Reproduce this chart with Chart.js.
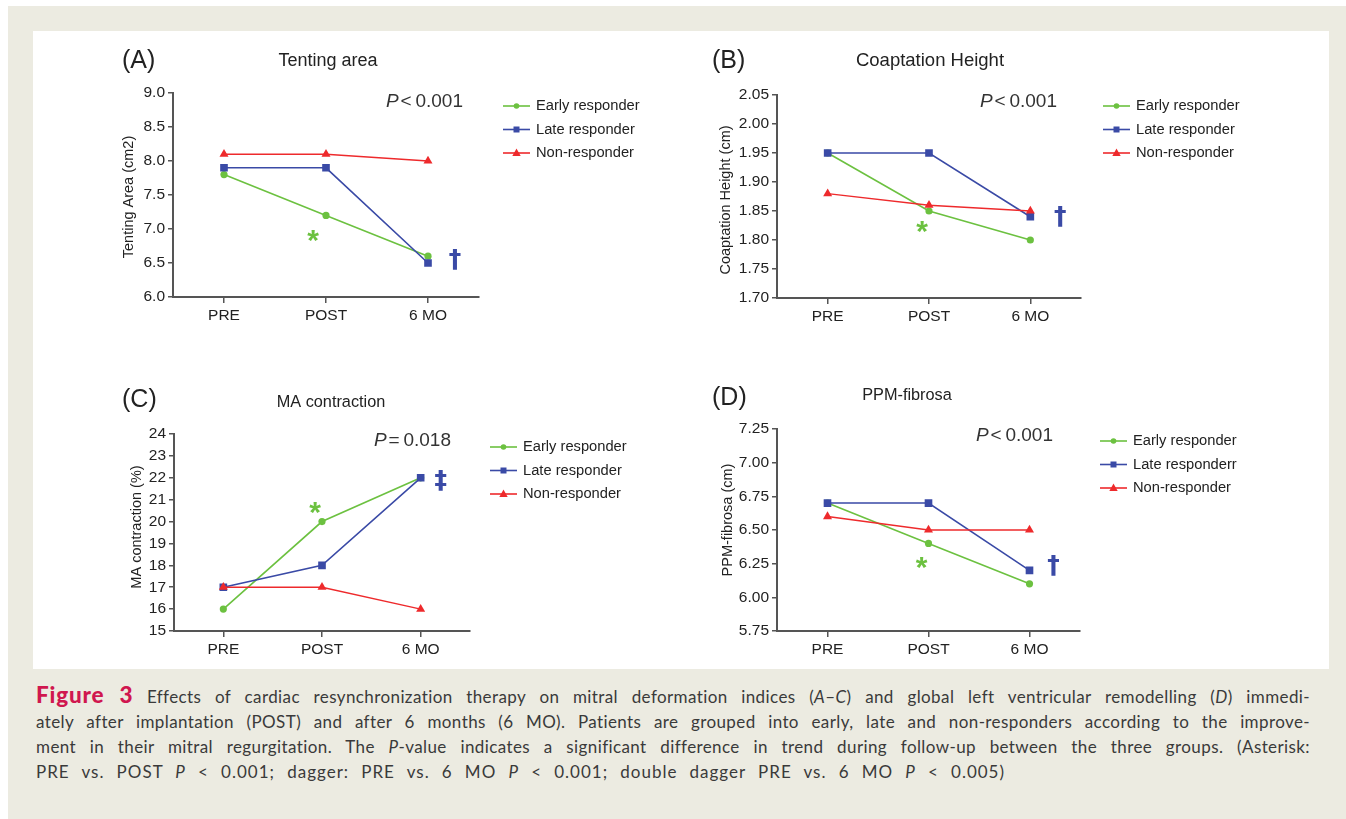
<!DOCTYPE html>
<html><head><meta charset="utf-8">
<script src="https://cdn.jsdelivr.net/npm/chart.js@4.4.1/dist/chart.umd.min.js"></script>
<style>
html,body{margin:0;padding:0;background:#fff;}
#page{position:relative;width:1346px;height:819px;overflow:hidden;background:#fff;}
#bg{position:absolute;left:8px;top:6px;right:0;bottom:0;background:#ecebe1;}
#inner{position:absolute;left:33px;top:31px;width:1296px;height:638px;background:#fff;}
canvas{position:absolute;}
#cap{position:absolute;left:36px;top:682px;width:1274px;font-family:Lato,"Open Sans",sans-serif;font-size:17px;letter-spacing:0.4px;color:#3a3a3a;line-height:25px;}
#cap .ln{text-align:justify;text-align-last:justify;white-space:nowrap;}
#cap .l4{width:969px;letter-spacing:1px;word-spacing:5px;}
#cap b{color:#d0174f;font-size:22.5px;font-weight:900;letter-spacing:0.8px;margin-right:0px;}
</style></head>
<body><div id="page"><div id="bg"></div><div id="inner"></div>
<canvas id="cA" width="590" height="300" style="left:100px;top:40px;width:590px;height:300px"></canvas>
<canvas id="cB" width="600" height="300" style="left:690px;top:40px;width:600px;height:300px"></canvas>
<canvas id="cC" width="590" height="300" style="left:100px;top:370px;width:590px;height:300px"></canvas>
<canvas id="cD" width="600" height="300" style="left:690px;top:370px;width:600px;height:300px"></canvas>
<div id="cap">
<div class="ln"><b>Figure 3</b> Effects of cardiac resynchronization therapy on mitral deformation indices (<i>A</i>–<i>C</i>) and global left ventricular remodelling (<i>D</i>) immedi-</div>
<div class="ln">ately after implantation (POST) and after 6 months (6 MO). Patients are grouped into early, late and non-responders according to the improve-</div>
<div class="ln">ment in their mitral regurgitation. The <i>P</i>-value indicates a significant difference in trend during follow-up between the three groups. (Asterisk:</div>
<div class="ln l4">PRE vs. POST <i>P</i> &lt; 0.001; dagger: PRE vs. 6 MO <i>P</i> &lt; 0.001; double dagger PRE vs. 6 MO <i>P</i> &lt; 0.005)</div>
</div>
</div>
<script>
// ---- data ----
const categories = ['PRE', 'POST', '6 MO'];
const seriesNames = ['Early responder', 'Late responder', 'Non-responder'];
const seriesNamesD = ['Early responder', 'Late responderr', 'Non-responder'];

const tentingEarly = [7.8, 7.2, 6.6];
const tentingLate  = [7.9, 7.9, 6.5];
const tentingNon   = [8.1, 8.1, 8.0];

const coaptEarly = [1.95, 1.85, 1.80];
const coaptLate  = [1.95, 1.95, 1.84];
const coaptNon   = [1.88, 1.86, 1.85];

const maEarly = [16, 20, 22];
const maLate  = [17, 18, 22];
const maNon   = [17, 17, 16];

const ppmEarly = [6.7, 6.4, 6.1];
const ppmLate  = [6.7, 6.7, 6.2];
const ppmNon   = [6.6, 6.5, 6.5];

const pValues = ['<0.001', '<0.001', '=0.018', '<0.001'];

// ---- styles ----
const GREEN = '#6cc140', BLUE = '#3a4aa6', RED = '#ee2a2c', TXT = '#222', AX = '#555';
const FONT = '"Liberation Sans", Arial, sans-serif';

function drawMarker(ctx, style, x, y, s, color) {
  ctx.fillStyle = color;
  ctx.beginPath();
  if (style === 'circle') { ctx.arc(x, y, s, 0, Math.PI * 2); }
  else if (style === 'rect') { ctx.rect(x - s, y - s, 2 * s, 2 * s); }
  else { ctx.moveTo(x, y - s * 1.1); ctx.lineTo(x + s * 1.05, y + s * 0.75); ctx.lineTo(x - s * 1.05, y + s * 0.75); ctx.closePath(); }
  ctx.fill();
}

const decoPlugin = {
  id: 'deco',
  afterDraw(chart, args, o) {
    const ctx = chart.ctx;
    ctx.save();
    ctx.fillStyle = TXT;
    ctx.textBaseline = 'middle';
    ctx.textAlign = 'left';
    ctx.font = '25px ' + FONT;
    ctx.fillText(o.letter, o.letterX, o.letterY);
    ctx.textAlign = 'center';
    ctx.font = o.titleSize + 'px ' + FONT;
    ctx.fillText(o.title, o.titleX, o.titleY);
    // y title
    ctx.save();
    ctx.translate(o.yTitleX, o.yTitleY);
    ctx.rotate(-Math.PI / 2);
    ctx.font = '14.5px ' + FONT;
    ctx.fillText(o.yTitle, 0, 0);
    ctx.restore();
    // P value
    ctx.textAlign = 'right';
    ctx.fillStyle = '#333';
    ctx.font = '19px ' + FONT;
    const rest = o.p.charAt(0) + '\u2009' + o.p.slice(1);
    ctx.fillText(rest, o.pX, o.pY);
    const w = ctx.measureText(rest).width;
    ctx.font = 'italic 19px ' + FONT;
    ctx.fillText('P', o.pX - w - 2, o.pY);
    // legend (in series order)
    ctx.textAlign = 'left';
    ctx.font = '14.7px ' + FONT;
    const dsList = chart.data.datasets.slice().sort((a, b) => a.seriesIndex - b.seriesIndex);
    dsList.forEach((ds, i) => {
      const y = o.legY + i * o.legGap;
      ctx.strokeStyle = ds.borderColor;
      ctx.lineWidth = 1.6;
      ctx.beginPath(); ctx.moveTo(o.legX, y); ctx.lineTo(o.legX + 27, y); ctx.stroke();
      const ms = ds.pointStyle === 'circle' ? 2.8 : (ds.pointStyle === 'rect' ? 3 : 4);
      drawMarker(ctx, ds.pointStyle, o.legX + 13.5, y, ms, ds.borderColor);
      ctx.fillStyle = TXT;
      ctx.fillText(ds.label, o.legX + 33, y);
    });
    // significance marks
    o.marks.forEach(m => {
      const x = chart.scales.x.getPixelForValue(m.cat) + m.dx;
      const y = chart.scales.y.getPixelForValue(m.val);
      ctx.fillStyle = m.color;
      ctx.textAlign = 'center';
      ctx.textBaseline = 'alphabetic';
      if (m.text === '*') { ctx.font = 'bold 30px ' + FONT; ctx.fillText('*', x, y + 17); }
      else { ctx.font = 'bold 25px "DejaVu Sans", ' + FONT; ctx.fillText(m.text, x, y + 7); }
    });
    ctx.restore();
  }
};

function makeChart(id, names, data3, yCfg, layout, deco) {
  const styles = ['circle', 'rect', 'triangle'];
  const colors = [GREEN, BLUE, RED];
  const radii = [3.6, 5.4, 5.2];
  const datasets = data3.map((d, i) => ({
    label: names[i], data: d, borderColor: colors[i], backgroundColor: colors[i],
    seriesIndex: i, order: 2 - i,
    borderWidth: i === 2 ? 1.4 : 1.6, pointStyle: styles[i], pointRadius: radii[i], pointBorderWidth: 0,
    tension: 0, fill: false
  }));
  const canvas = document.getElementById(id);
  const W = canvas.width, H = canvas.height;
  const XH = 30;
  return new Chart(canvas, {
    type: 'line',
    data: { labels: categories, datasets: datasets },
    options: {
      responsive: false, animation: false, devicePixelRatio: 1,
      layout: { padding: { left: 0, top: layout.top, right: W - layout.right, bottom: H - layout.bottom - XH } },
      plugins: { legend: { display: false }, tooltip: { enabled: false }, deco: deco },
      scales: {
        x: {
          type: 'category', offset: true,
          afterFit: s => { s.height = XH; },
          grid: { display: true, drawOnChartArea: false, drawTicks: true, tickLength: 6, offset: false, color: AX, lineWidth: 1.5 },
          border: { display: true, color: AX, width: 2 },
          ticks: { color: TXT, font: { family: FONT, size: 15.5 }, padding: 3, maxRotation: 0 }
        },
        y: {
          min: yCfg.min, max: yCfg.max,
          afterFit: s => { s.width = layout.left; },
          grid: { display: true, drawOnChartArea: false, drawTicks: true, tickLength: 5, color: AX, lineWidth: 1.5 },
          border: { display: true, color: AX, width: 2 },
          ticks: { stepSize: yCfg.step, autoSkip: false, color: TXT, font: { family: FONT, size: 15.5 }, padding: 3,
                   callback: v => Number(v).toFixed(yCfg.dec) }
        }
      }
    },
    plugins: [decoPlugin]
  });
}

makeChart('cA', seriesNames, [tentingEarly, tentingLate, tentingNon],
  { min: 6, max: 9, step: 0.5, dec: 1 },
  { left: 73, top: 53, right: 379, bottom: 257 },
  { letter: '(A)', letterX: 22, letterY: 21, title: 'Tenting area', titleSize: 18, titleX: 228, titleY: 21,
    yTitle: 'Tenting Area (cm2)', yTitleX: 29, yTitleY: 157, p: pValues[0], pX: 363, pY: 62,
    legX: 403, legY: 66, legGap: 23.5,
    marks: [{ text: '*', cat: 1, dx: -13, val: 6.94, color: GREEN }, { text: '\u2020', cat: 2, dx: 27, val: 6.54, color: BLUE }] });
makeChart('cB', seriesNames, [coaptEarly, coaptLate, coaptNon],
  { min: 1.70, max: 2.05, step: 0.05, dec: 2 },
  { left: 87, top: 55, right: 391, bottom: 258 },
  { letter: '(B)', letterX: 22, letterY: 21, title: 'Coaptation Height', titleSize: 18.5, titleX: 240, titleY: 21,
    yTitle: 'Coaptation Height (cm)', yTitleX: 36, yTitleY: 160, p: pValues[1], pX: 367, pY: 62,
    legX: 413, legY: 66, legGap: 23.5,
    marks: [{ text: '*', cat: 1, dx: -7, val: 1.828, color: GREEN }, { text: '\u2020', cat: 2, dx: 30, val: 1.84, color: BLUE }] });
makeChart('cC', seriesNames, [maEarly, maLate, maNon],
  { min: 15, max: 24, step: 1, dec: 0 },
  { left: 74, top: 64, right: 370, bottom: 261 },
  { letter: '(C)', letterX: 22, letterY: 30, title: 'MA contraction', titleSize: 16.3, titleX: 231, titleY: 33,
    yTitle: 'MA contraction (%)', yTitleX: 37, yTitleY: 157, p: pValues[2], pX: 351, pY: 71,
    legX: 390, legY: 77, legGap: 23.5,
    marks: [{ text: '*', cat: 1, dx: -7, val: 20.76, color: GREEN }, { text: '\u2021', cat: 2, dx: 20, val: 21.85, color: BLUE }] });
makeChart('cD', seriesNamesD, [ppmEarly, ppmLate, ppmNon],
  { min: 5.75, max: 7.25, step: 0.25, dec: 2 },
  { left: 87, top: 59, right: 390, bottom: 261 },
  { letter: '(D)', letterX: 22, letterY: 28, title: 'PPM-fibrosa', titleSize: 16.3, titleX: 217, titleY: 26,
    yTitle: 'PPM-fibrosa (cm)', yTitleX: 38, yTitleY: 150, p: pValues[3], pX: 363, pY: 66,
    legX: 410, legY: 71, legGap: 23.5,
    marks: [{ text: '*', cat: 1, dx: -7, val: 6.28, color: GREEN }, { text: '\u2020', cat: 2, dx: 24, val: 6.23, color: BLUE }] });
</script>
</body></html>
